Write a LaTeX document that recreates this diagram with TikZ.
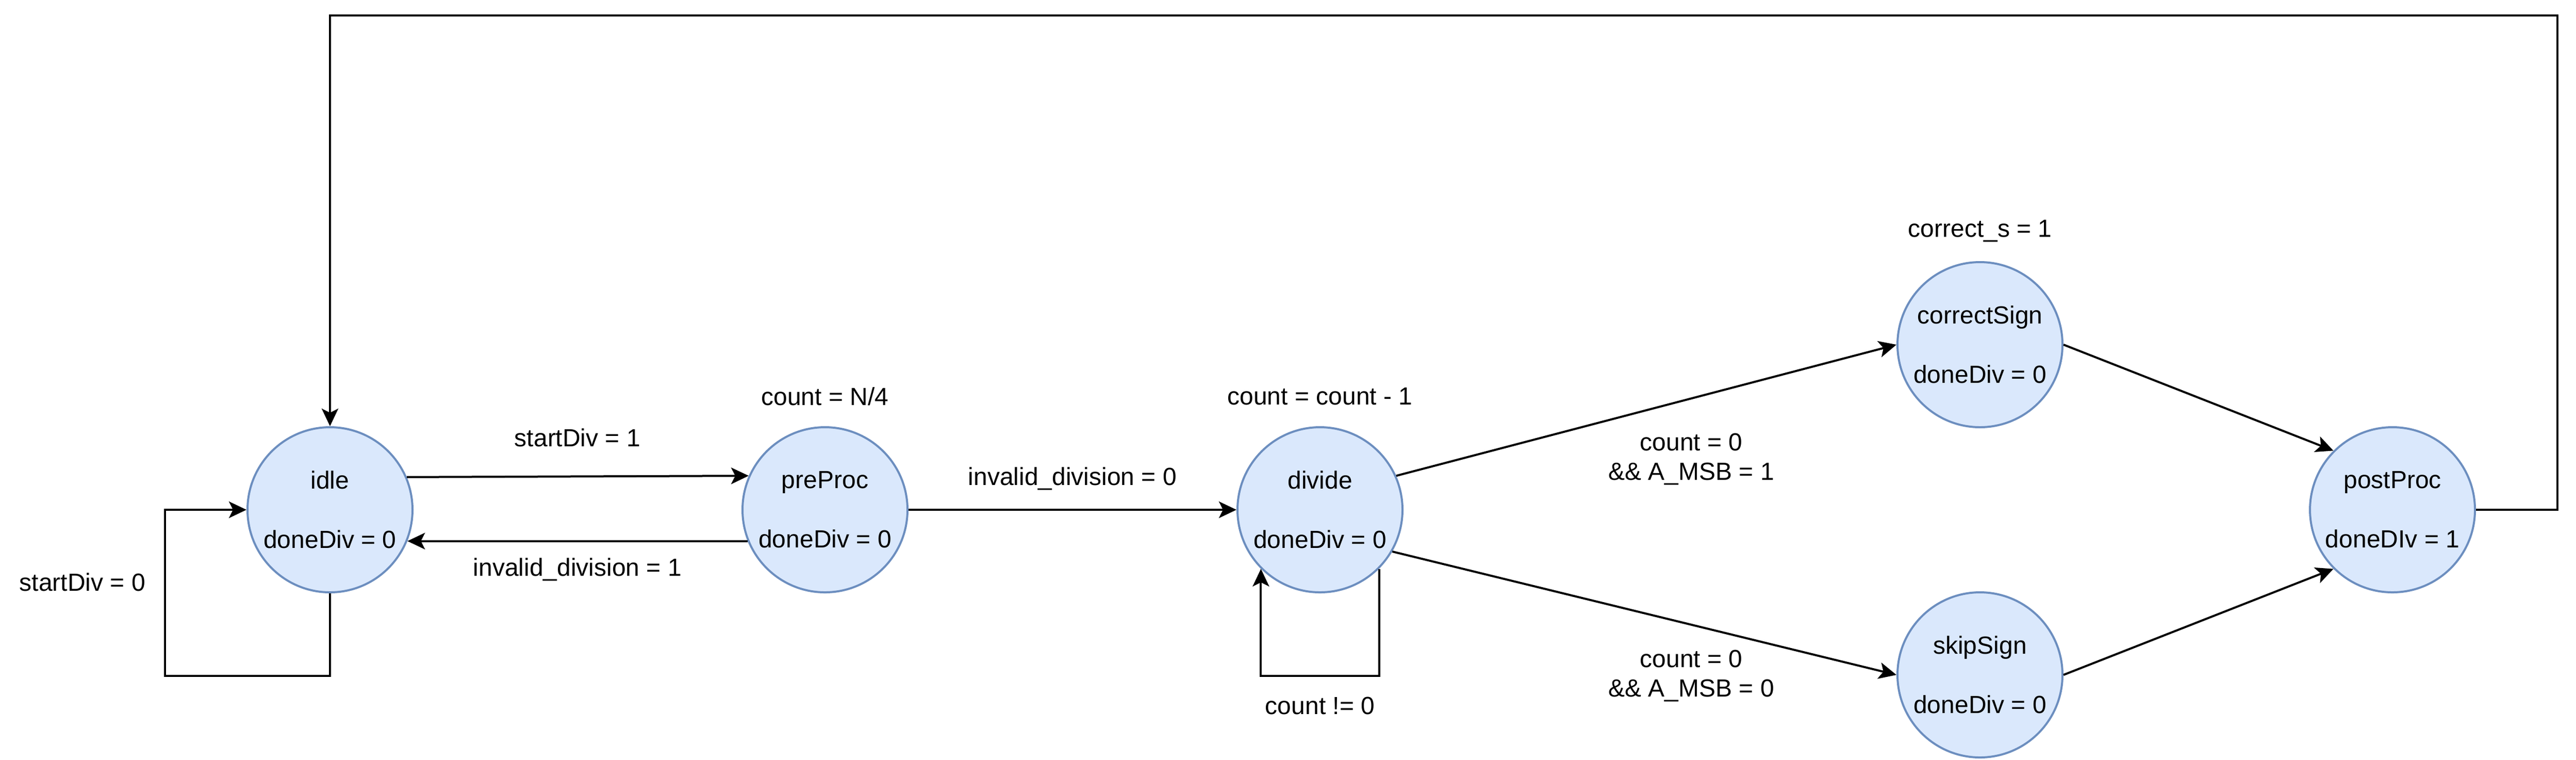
\documentclass[tikz,border=0pt]{standalone}
\usepackage{fontspec}
\setmainfont{Liberation Sans}
\usetikzlibrary{arrows.meta}
\definecolor{stateFill}{HTML}{DAE8FC}
\definecolor{stateLine}{HTML}{6C8EBF}
\begin{document}
\begin{tikzpicture}[x=1pt,y=-1pt,line width=1pt,>={Stealth[length=8.5pt,width=8pt,inset=2pt]}]
\tikzstyle{every node}+=[inner sep=0pt,align=center,font=\fontsize{12}{14.4}\selectfont]
\tikzstyle{state}=[circle,draw=stateLine,fill=stateFill,minimum size=80pt]
\useasboundingbox (0,0) rectangle (1249,368);
\node [state] (idle) at (160,247) {idle\\[14.4pt]doneDiv = 0};
\node [state] (preProc) at (400,247) {preProc\\[14.4pt]doneDiv = 0};
\node [state] (divide) at (640,247) {divide\\[14.4pt]doneDiv = 0};
\node [state] (correctSign) at (960,167) {correctSign\\[14.4pt]doneDiv = 0};
\node [state] (skipSign) at (960,327) {skipSign\\[14.4pt]doneDiv = 0};
\node [state] (postProc) at (1160,247) {postProc\\[14.4pt]doneDIv = 1};
\node (outPre) at (400,192) {count = N/4};
\node (outDivide) at (640,192) {count = count - 1};
\node (outCorrect) at (960,112) {correct\_s = 1};
\draw [->] (idle.23.6) -- (preProc.156.4);
\node (start1) at (280,212) {startDiv = 1};
\draw [->] (preProc.-158) -- (idle.-22);
\node (invalid1) at (280,276) {invalid\_division = 1};
\draw [->] (idle.south) |- (80,327.5) |- (idle.west);
\node (start0) at (40,282) {startDiv = 0};
\draw [->] (preProc.east) -- (divide.west);
\node (invalid0) at (520,232) {invalid\_division = 0};
\draw [->] (divide.-45) |- (640,327.5) -| (divide.-135);
\node (countNz) at (640,342) {count != 0};
\draw [->] (divide.24) -- (correctSign.west);
\node (msb1) at (820,222.5) {count = 0\\\&\& A\_MSB = 1};
\draw [->] (divide.-30) -- (skipSign.west);
\node (msb0) at (820,327.5) {count = 0\\\&\& A\_MSB = 0};
\draw [->] (correctSign.east) -- (postProc.135);
\draw [->] (skipSign.east) -- (postProc.-135);
\draw [->] (postProc.east) -| (1240,7.5) -| (idle.north);
\end{tikzpicture}
\end{document}
